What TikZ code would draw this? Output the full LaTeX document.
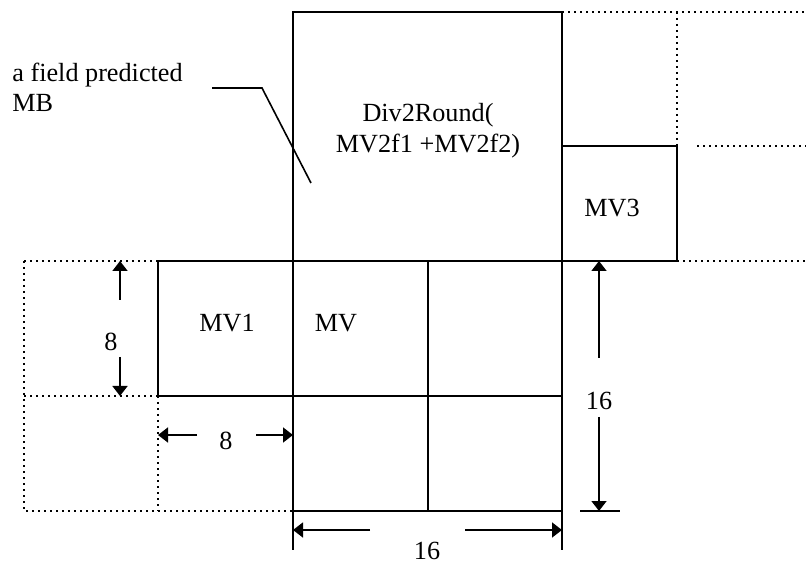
\documentclass[tikz,border=0pt]{standalone}
\usepackage{fontspec}
\setmainfont{Liberation Serif}
\usetikzlibrary{arrows.meta}

\tikzset{
  blk/.style={line width=1pt},
  dots/.style={line width=1pt,dash pattern=on 1pt off 2pt},
  dimarr/.style={line width=0.8pt,-{Triangle[length=5pt,width=7.5pt]}},
  lbl/.style={font=\fontsize{13.1}{15.5}\selectfont,inner sep=0pt}
}

\begin{document}
\begin{tikzpicture}[x=0.5pt,y=-0.5pt]
\useasboundingbox (0,0) rectangle (806,565);
% neighbouring blocks (dotted)
\draw[dots] (562,12) -- (806,12);
\draw[dots] (677,12) -- (677,146);
\draw[dots] (697,146) -- (806,146);
\draw[dots] (677,261) -- (806,261);
\draw[dots] (24,261) -- (158,261);
\draw[dots] (24,261) -- (24,511) -- (293,511);
\draw[dots] (24,396) -- (158,396);
\draw[dots] (158,396) -- (158,511);
% blocks
\draw[blk] (293,12) rectangle (562,261);
\draw[blk] (562,146) rectangle (677,261);
\draw[blk] (158,261) rectangle (293,396);
\draw[blk] (293,261) rectangle (428,396);
\draw[blk] (428,261) rectangle (562,396);
\draw[blk] (293,396) rectangle (428,511);
\draw[blk] (428,396) rectangle (562,511);
\draw[blk] (293,511) -- (293,550);
\draw[blk] (562,511) -- (562,550);
\draw[blk] (580,511) -- (620,511);
% texts
\node[lbl,anchor=base] (div) at (428,122) {Div2Round(};
\node[lbl,anchor=base] (divsum) at (428,153) {MV2f1 +MV2f2)};
\node[lbl,anchor=base] (mvthree) at (612,217) {MV3};
\node[lbl,anchor=base] (mvone) at (227,332) {MV1};
\node[lbl,anchor=base] (mv) at (336,332) {MV};
\node[lbl,anchor=base west] (note) at (12,82) {a field predicted};
\node[lbl,anchor=base west] (notemb) at (12,112) {MB};
% leader
\coordinate (lead1) at (212,88);
\coordinate (lead2) at (262,88);
\coordinate (lead3) at (311,183);
\draw[line width=0.8pt] (lead1) -- (lead2) -- (lead3);
% dimensions
\node[lbl] (eighty) at (111,342) {8};
\node[lbl] (eightx) at (226,441) {8};
\node[lbl] (sixteeny) at (599,401) {16};
\node[lbl] (sixteenx) at (427,551) {16};
\coordinate (ya) at (120,300); \coordinate (yt) at (120,261);
\coordinate (yb) at (120,357); \coordinate (ybb) at (120,396);
\draw[dimarr] (ya) -- (yt);
\draw[dimarr] (yb) -- (ybb);
\coordinate (xa) at (197,435); \coordinate (xl) at (158,435);
\coordinate (xb) at (256,435); \coordinate (xr) at (293,435);
\draw[dimarr] (xa) -- (xl);
\draw[dimarr] (xb) -- (xr);
\coordinate (ra) at (599,358); \coordinate (rt) at (599,261);
\coordinate (rb) at (599,417); \coordinate (rbb) at (599,511);
\draw[dimarr] (ra) -- (rt);
\draw[dimarr] (rb) -- (rbb);
\coordinate (ba) at (370,530); \coordinate (bl) at (293,530);
\coordinate (bb) at (465,530); \coordinate (br) at (562,530);
\draw[dimarr] (ba) -- (bl);
\draw[dimarr] (bb) -- (br);
\end{tikzpicture}
\end{document}
